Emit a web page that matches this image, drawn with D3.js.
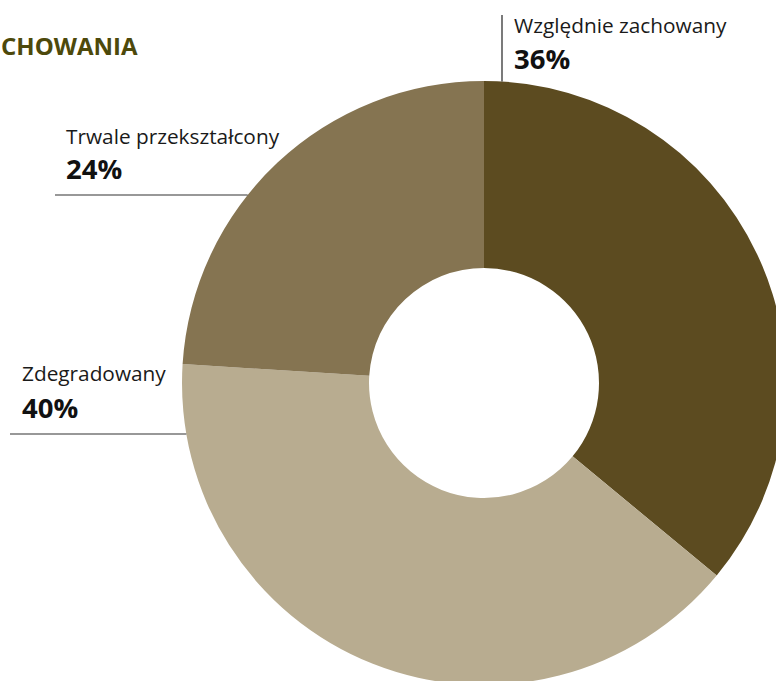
<!DOCTYPE html>
<html><head><meta charset="utf-8">
<script src="https://cdn.jsdelivr.net/npm/d3@7"></script>
<style>body{margin:0;background:#fff}svg{display:block}</style>
</head><body>
<svg id="c" width="776" height="681"></svg>
<script>
const categories = ["Względnie zachowany", "Zdegradowany", "Trwale przekształcony"];
const values = [36, 40, 24];
const valueLabels = ["36%", "40%", "24%"];
const colors = ["#5c4b20", "#b8ac90", "#857451"];
const title = "CHOWANIA";

const svg = d3.select("#c");
const cx = 484, cy = 383, R = 302, r = 115;
const font = "'Open Sans', 'Noto Sans', sans-serif";

const pie = d3.pie().value(d => d).sort(null);
const arc = d3.arc().innerRadius(r).outerRadius(R);
const g = svg.append("g").attr("transform", `translate(${cx},${cy})`);
g.selectAll("path").data(pie(values)).join("path")
  .attr("d", arc).attr("fill", (d, i) => colors[i]);

svg.append("text").attr("x", 1).attr("y", 55).text(title)
  .attr("font-family", font).attr("font-weight", 700).attr("font-size", 24)
  .attr("fill", "#4d490b");

const layout = [
  {tx: 514, ny: 33, vy: 69, type: "v", x: 502, y0: 15},
  {tx: 22, ny: 381, vy: 418, type: "h", y: 434, x0: 10},
  {tx: 66, ny: 144, vy: 179, type: "h", y: 195, x0: 55}
];
categories.forEach((c, i) => {
  const L = layout[i];
  svg.append("text").attr("x", L.tx).attr("y", L.ny).text(c)
    .attr("font-family", font).attr("font-size", 20.8).attr("fill", "#1a1a1a");
  svg.append("text").attr("x", L.tx).attr("y", L.vy).text(valueLabels[i])
    .attr("font-family", font).attr("font-weight", 700).attr("font-size", 27.5).attr("fill", "#111");
  if (L.type === "v") {
    const y1 = cy - Math.sqrt(R * R - (L.x - cx) * (L.x - cx));
    svg.append("line").attr("x1", L.x).attr("x2", L.x).attr("y1", L.y0).attr("y2", y1)
      .attr("stroke", "#222").attr("stroke-width", 1.2);
  } else {
    const x1 = cx - Math.sqrt(R * R - (L.y - cy) * (L.y - cy));
    svg.append("line").attr("x1", L.x0).attr("x2", x1).attr("y1", L.y).attr("y2", L.y)
      .attr("stroke", "#333").attr("stroke-width", 1.2);
  }
});
</script>
</body></html>
